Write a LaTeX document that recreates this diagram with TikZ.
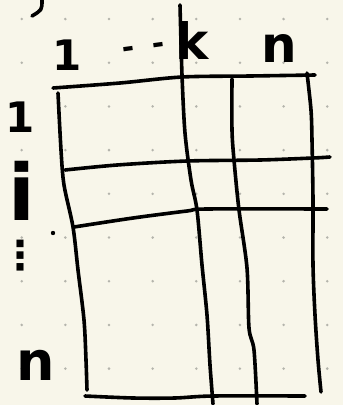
\documentclass[tikz,border=0pt]{standalone}
\usepackage{fontspec}
\setmainfont{DejaVu Sans}
\definecolor{paper}{HTML}{F8F6EA}
\definecolor{griddot}{HTML}{B4B4AC}
\begin{document}
\begin{tikzpicture}[x=1pt,y=-1pt,
  pen/.style={line width=3.6pt,line cap=round,line join=round,black},
  lbl/.style={inner sep=0pt,text=black}]
\fill[paper] (0,0) rectangle (343,405);
\useasboundingbox (0,0) rectangle (343,405);
% dot grid
\foreach \i in {0,...,7}{
  \foreach \j in {0,...,8}{
    \fill[griddot] ({21.7+43.65*\i},{19+43.7*\j}) circle (1.4);
  }
}
% grid lines
\draw[pen] plot[smooth] coordinates {(53,88) (120,83) (182,77) (250,76) (315,75)};
\draw[pen] plot[smooth] coordinates {(58,93) (61,150) (64,185) (73,227) (78,270) (84,320) (86,360) (87,390)};
\draw[pen] plot[smooth] coordinates {(180,5) (182,75) (185,133) (191,180) (197,210) (202,265) (207,315) (210,365) (213,404)};
\draw[pen] plot[smooth] coordinates {(232,79) (232,130) (234,160) (239,210) (247,268) (249,328) (254,350) (257,404)};
\draw[pen] plot[smooth] coordinates {(307,73) (311,110) (312,140) (313,200) (313,265) (315,315) (318,360) (321,392)};
\draw[pen] plot[smooth] coordinates {(65,170) (117,165) (187,161) (260,160) (313,158) (330,157)};
\draw[pen] plot[smooth] coordinates {(74,227) (133,218) (187,211) (207,209) (327,209)};
\draw[pen] plot[smooth] coordinates {(85,396) (133,398) (175,398) (213,396) (305,396)};
% fragment at top left
\draw[pen] (42,0) .. controls (42,10) .. (32,16);
% small dot
\fill (53,233) circle (2.2);
% labels
\node[lbl,font=\bfseries\fontsize{42}{42}\selectfont,anchor=base] (c1) at (67,70) {1};
\node[lbl,font=\bfseries\fontsize{30}{30}\selectfont,rotate=8] (cdots) at (144,50) {-\hspace{18pt}-};
\node[lbl,font=\bfseries\fontsize{50}{50}\selectfont,anchor=base west] (ck) at (175,59) {k};
\node[lbl,font=\bfseries\fontsize{50}{50}\selectfont,anchor=base west] (cn) at (261,62) {n};
\node[lbl,font=\bfseries\fontsize{42}{42}\selectfont,anchor=base] (r1) at (20,132) {1};
\node[lbl,font=\bfseries\fontsize{78}{78}\selectfont,anchor=base] (ri) at (22,220) {i};
\node[lbl,font=\bfseries\fontsize{40}{40}\selectfont] (rdots) at (21,256) {⋮};
\node[lbl,font=\bfseries\fontsize{54}{54}\selectfont,anchor=base west] (rn) at (16,380) {n};
\end{tikzpicture}
\end{document}
